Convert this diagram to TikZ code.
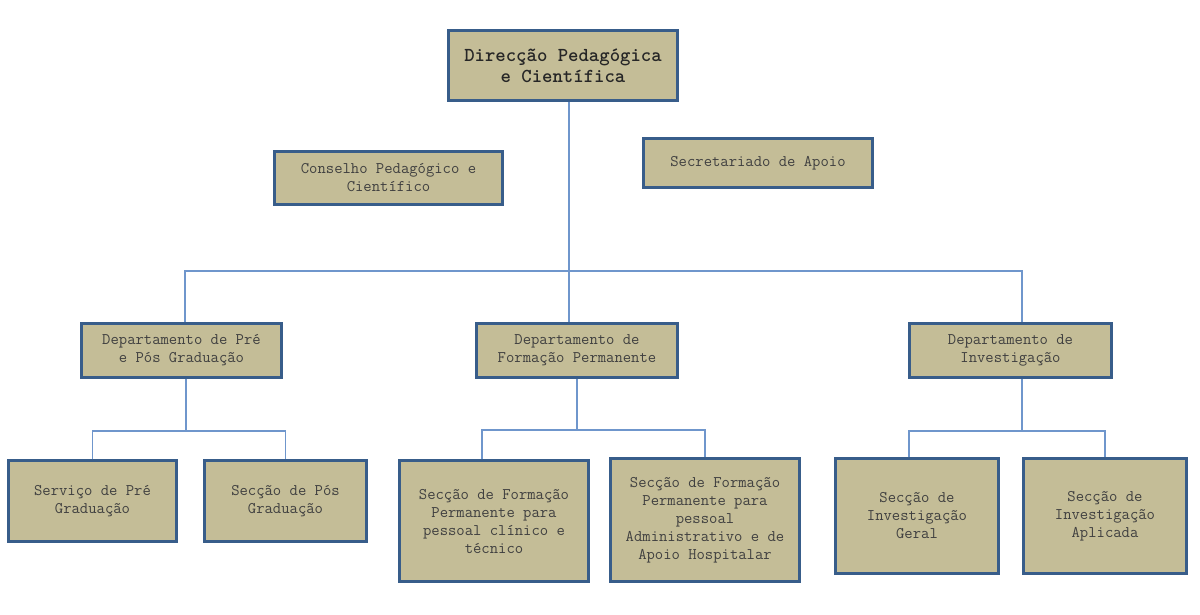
\documentclass[tikz,border=0pt]{standalone}
\usepackage{fontspec}
\usepackage{tikz}
\usetikzlibrary{positioning}
\usetikzlibrary{calc}
\definecolor{boxfill}{HTML}{C4BD97}
\definecolor{boxline}{HTML}{385D8A}
\definecolor{linkblue}{HTML}{6F96CC}
\definecolor{txtgray}{HTML}{404040}
\tikzset{unit/.style={draw=boxline, line width=2.4pt, fill=boxfill, inner sep=2pt, align=center, text=txtgray, font=\ttfamily\fontsize{16.2}{18}\selectfont}}
\tikzset{head/.style={unit, text=black!85, font=\ttfamily\bfseries\fontsize{19.8}{21}\selectfont}}
\tikzset{link/.style={draw=linkblue, line width=1.3pt}}

\begin{document}
\begin{tikzpicture}[x=1pt, y=-1pt]
\useasboundingbox (0,0) rectangle (1200,615);
\node[head, minimum width=229, minimum height=70] (dir) at (563,65.5) {Direcção Pedagógica\\e Científica};
\node[unit, minimum width=228, minimum height=53] (cons) at (388.5,178) {Conselho Pedagógico e\\Científico};
\node[unit, minimum width=229, minimum height=49] (sec) at (758,163) {Secretariado de Apoio};
%
\node[unit, minimum width=200, minimum height=54] (d1) at (181.5,350.5) {Departamento de Pré\\e Pós Graduação};
\node[unit, minimum width=201, minimum height=54] (d2) at (577,350.5) {Departamento de\\Formação Permanente};
\node[unit, minimum width=202, minimum height=54] (d3) at (1010.5,350.5) {Departamento de\\Investigação};
%
\node[unit, minimum width=168, minimum height=81] (s11) at (92.5,501) {Serviço de Pré\\Graduação};
\node[unit, minimum width=162, minimum height=81] (s12) at (285.5,501) {Secção de Pós\\Graduação};
\node[unit, minimum width=189, minimum height=121] (s21) at (494,521) {Secção de Formação\\Permanente para\\pessoal clínico e\\técnico};
\node[unit, minimum width=189, minimum height=123] (s22) at (705,520) {Secção de Formação\\Permanente para\\pessoal\\Administrativo e de\\Apoio Hospitalar};
\node[unit, minimum width=163, minimum height=115] (s31) at (917,516) {Secção de\\Investigação\\Geral};
\node[unit, minimum width=163, minimum height=115] (s32) at (1105,516) {Secção de\\Investigação\\Aplicada};
%
\coordinate (aux0) at (569,271);
\coordinate (aux1) at (186,431);
\coordinate (aux2) at (577,430);
\coordinate (aux3) at (1022,431);

\draw[link] ([xshift=6]dir.south) -- ([xshift=-8]d2.north);
\draw[link] ([xshift=3.5]d1.north) |- (aux0) -| ([xshift=11.5]d3.north);
\draw[link] ([xshift=4.5]d1.south) -- (aux1);
\draw[link] (s11.north) |- (aux1) -| (s12.north);
\draw[link] (d2.south) -- (aux2);
\draw[link] ([xshift=-12]s21.north) |- (aux2) -| (s22.north);
\draw[link] ([xshift=11.5]d3.south) -- (aux3);
\draw[link] ([xshift=-8]s31.north) |- (aux3) -| (s32.north);
\end{tikzpicture}
\end{document}
